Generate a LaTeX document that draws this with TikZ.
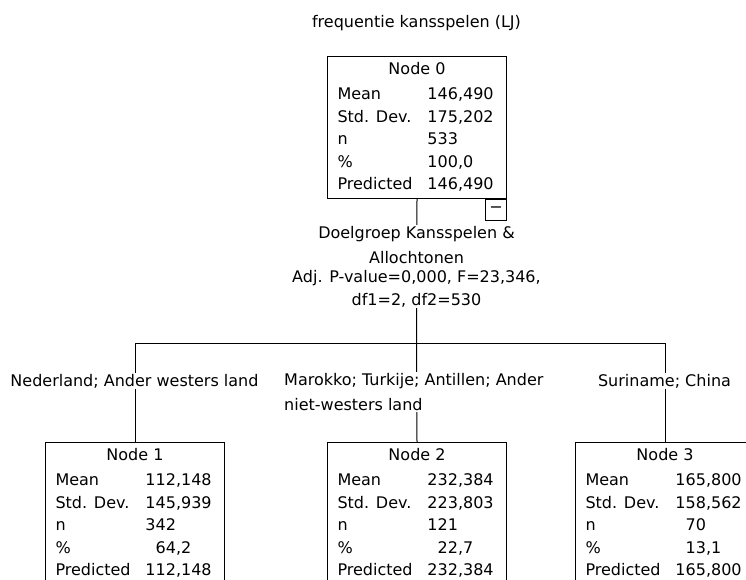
\documentclass[tikz,border=0pt]{standalone}
\usepackage{fontspec}
\setmainfont{DejaVu Sans}
\usepackage{array}
\usetikzlibrary{positioning}

% integer part right-aligned so the decimal commas line up
\newcommand{\dec}[2]{\makebox[1.908em][r]{#1}#2}
\newcommand{\stattab}[6]{%
  \begin{tabular}{@{\hspace{10pt}}p{90pt}@{}p{79pt}@{}}
    \multicolumn{2}{@{}c@{}}{Node #1}\\[3pt]
    Mean      & #2\\
    Std. Dev. & #3\\
    n         & #4\\
    \%        & #5\\
    Predicted & #6
  \end{tabular}}

\begin{document}
\begin{tikzpicture}[
    x=1pt,y=-1pt,
    font=\fontsize{16}{22.5}\selectfont,
    tnode/.style={draw,fill=white,line width=1pt,inner xsep=0pt,inner ysep=2pt,anchor=north west},
    lbl/.style={fill=white,inner sep=1pt},
    tog/.style={draw,fill=white,line width=1pt,minimum size=21pt,inner sep=0pt,anchor=north east},
    link/.style={line width=1pt},
]
\useasboundingbox (0,0) rectangle (746,579);
\clip (0,0) rectangle (746,579);

% --- root ---
\node[anchor=base] (title) at (416.5,27) {frequentie kansspelen (LJ)};
\node[tnode] (n0) at (327,56)
  {\stattab{0}{\dec{146}{,490}}{\dec{175}{,202}}{\dec{533}{}}{\dec{100}{,0}}{\dec{146}{,490}}};
\node[tog] (tog0) at (n0.south east) {−};

% --- children ---
\node[tnode] (n1) at (45,442)
  {\stattab{1}{\dec{112}{,148}}{\dec{145}{,939}}{\dec{342}{}}{\dec{64}{,2}}{\dec{112}{,148}}};
\node[tnode] (n2) at (327,442)
  {\stattab{2}{\dec{232}{,384}}{\dec{223}{,803}}{\dec{121}{}}{\dec{22}{,7}}{\dec{232}{,384}}};
\node[tnode] (n3) at (575,442)
  {\stattab{3}{\dec{165}{,800}}{\dec{158}{,562}}{\dec{70}{}}{\dec{13}{,1}}{\dec{165}{,800}}};

% tree links
\coordinate (bar0) at (416.5,343);
\draw[link] (n0.south) -- (bar0);
\draw[link] (n1.north) |- (bar0);
\draw[link] (n2.north) -- (bar0);
\draw[link] (n3.north) |- (bar0);

% split and branch labels
\node[lbl,align=center,anchor=north] (split0) at (416.5,225)
  {Doelgroep Kansspelen \&\\[2.5pt] Allochtonen\\[-3.5pt]
   Adj. P-value=0,000, F=23,346,\\[0.5pt] df1=2, df2=530};
\node[lbl,anchor=base] (e1) at (134.5,386) {Nederland; Ander westers land};
\node[lbl,align=left,anchor=north west] (e2) at (283,372)
  {Marokko; Turkije; Antillen; Ander\\[2.5pt] niet-westers land};
\node[lbl,anchor=base] (e3) at (664.5,386) {Suriname; China};
\end{tikzpicture}
\end{document}
